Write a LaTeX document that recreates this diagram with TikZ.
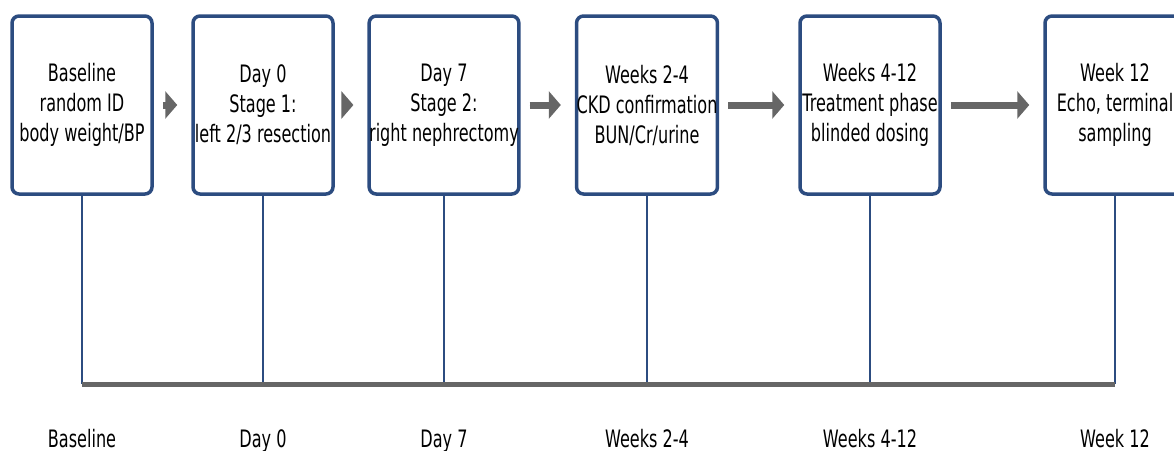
\documentclass[tikz,border=0pt]{standalone}
\usepackage{fontspec}
\setmainfont{DejaVu Sans}[FakeStretch=0.67]
\usepackage{tikz}
\usetikzlibrary{arrows.meta,positioning}
\definecolor{boxblue}{RGB}{44,76,128}
\definecolor{flowgray}{RGB}{102,102,102}

\begin{document}
\begin{tikzpicture}[x=1pt,y=-1pt,on grid,
        stage/.style={draw=boxblue,line width=3.5pt,rounded corners=7pt,
            minimum width=140pt,minimum height=178pt,inner sep=0pt,
            align=center,font=\fontsize{24}{30}\selectfont},
        flow/.style={draw=flowgray,fill=flowgray,line width=7pt,
            -{Triangle[length=12pt,width=27pt]},shorten <=9pt,shorten >=14pt},
        tick/.style={draw=boxblue,line width=1.4pt},
        timeline/.style={draw=flowgray,line width=5pt},
        when/.style={anchor=base,font=\fontsize{24}{30}\selectfont}]
        \useasboundingbox (0,0) rectangle (1174,450);
        \node[stage] (base) at (82,105) {Baseline\\random ID\\body weight/BP};
        \node[stage] (day0) [right=181pt of base] {Day 0\\Stage 1:\\left 2/3 resection};
        \node[stage] (day7) [right=181pt of day0] {Day 7\\Stage 2:\\right nephrectomy};
        \node[stage] (wk2)  [right=203pt of day7] {Weeks 2-4\\CKD confirmation\\BUN/Cr/urine};
        \node[stage] (wk4)  [right=223pt of wk2]  {Weeks 4-12\\Treatment phase\\blinded dosing};
        \node[stage] (wk12) [right=245pt of wk4]  {Week 12\\Echo, terminal\\sampling};
        \draw[flow] (base) -- (day0);
        \draw[flow] (day0) -- (day7);
        \draw[flow] (day7) -- (wk2);
        \draw[flow] (wk2)  -- (wk4);
        \draw[flow] (wk4)  -- (wk12);
        % timeline below the boxes
        \coordinate (t_base) at (base |- 0,384);
        \coordinate (t_day0) at (day0 |- 0,384);
        \coordinate (t_day7) at (day7 |- 0,384);
        \coordinate (t_wk2)  at (wk2 |- 0,384);
        \coordinate (t_wk4)  at (wk4 |- 0,384);
        \coordinate (t_wk12) at (wk12 |- 0,384);
        \path[tick]
        (base.south) edge (t_base)
        (day0.south) edge (t_day0)
        (day7.south) edge (t_day7)
        (wk2.south)  edge (t_wk2)
        (wk4.south)  edge (t_wk4)
        (wk12.south) edge (t_wk12);
        \draw[timeline] (t_base) -- (t_wk12);
        \node[when] (l_base) at ([yshift=-63pt]t_base) {Baseline};
        \node[when] (l_day0) at ([yshift=-63pt]t_day0) {Day 0};
        \node[when] (l_day7) at ([yshift=-63pt]t_day7) {Day 7};
        \node[when] (l_wk2)  at ([yshift=-63pt]t_wk2)  {Weeks 2-4};
        \node[when] (l_wk4)  at ([yshift=-63pt]t_wk4)  {Weeks 4-12};
        \node[when] (l_wk12) at ([yshift=-63pt]t_wk12) {Week 12};
    \end{tikzpicture}
\end{document}
